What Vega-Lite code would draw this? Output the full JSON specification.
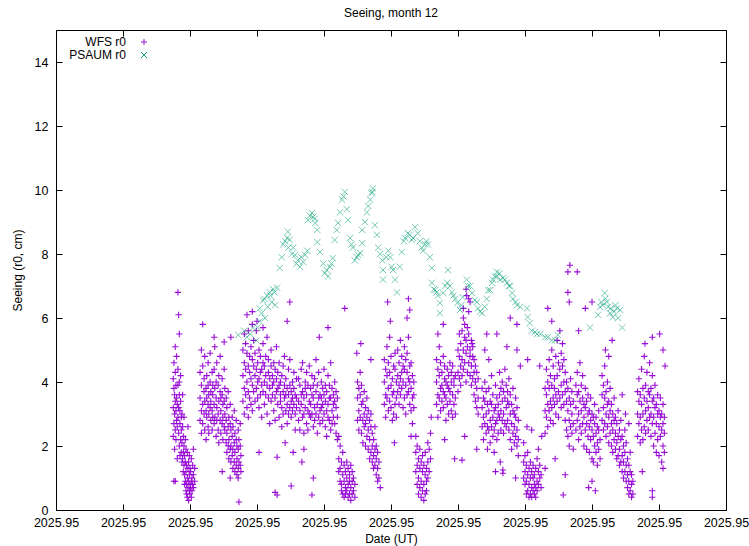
{
"$schema": "https://vega.github.io/schema/vega-lite/v6.json",
"width": 670, "height": 480,
"autosize": {"type": "none"},
"padding": {"left": 56, "top": 30, "right": 23, "bottom": 36},
"background": "white",
"title": {"text": "Seeing, month 12", "fontSize": 12, "font": "Liberation Sans", "fontWeight": "normal", "color": "black", "offset": 10},
"datasets": {
"wfs": [
{"t":1.75,"r":3.2},{"t":1.75,"r":4.1},{"t":1.75,"r":2.3},
{"t":1.76,"r":3.8},{"t":1.76,"r":2.7},{"t":1.76,"r":4.6},{"t":1.76,"r":0.9},
{"t":1.77,"r":3.0},{"t":1.77,"r":3.6},{"t":1.77,"r":1.9},{"t":1.78,"r":0.9},
{"t":1.78,"r":4.3},{"t":1.78,"r":2.5},{"t":1.78,"r":3.4},{"t":1.78,"r":5.1},
{"t":1.79,"r":3.1},{"t":1.79,"r":2.2},{"t":1.79,"r":3.9},
{"t":1.80,"r":3.5},{"t":1.80,"r":4.8},{"t":1.80,"r":2.8},
{"t":1.81,"r":2.6},{"t":1.81,"r":3.3},{"t":1.81,"r":1.6},
{"t":1.82,"r":3.9},{"t":1.82,"r":2.9},{"t":1.82,"r":6.8},{"t":1.82,"r":4.4},
{"t":1.83,"r":2.4},{"t":1.83,"r":3.2},{"t":1.83,"r":6.1},
{"t":1.84,"r":3.6},{"t":1.84,"r":2.0},{"t":1.84,"r":4.0},{"t":1.84,"r":5.5},
{"t":1.85,"r":2.7},{"t":1.85,"r":3.1},{"t":1.85,"r":1.7},
{"t":1.86,"r":2.2},{"t":1.86,"r":3.4},{"t":1.86,"r":4.2},
{"t":1.87,"r":2.9},{"t":1.87,"r":1.8},{"t":1.87,"r":2.5},
{"t":1.88,"r":2.1},{"t":1.88,"r":3.0},{"t":1.88,"r":1.5},
{"t":1.89,"r":2.6},{"t":1.89,"r":1.6},{"t":1.89,"r":3.6},
{"t":1.90,"r":1.8},{"t":1.90,"r":2.3},{"t":1.90,"r":1.2},
{"t":1.91,"r":1.4},{"t":1.91,"r":2.0},{"t":1.91,"r":2.9},
{"t":1.92,"r":1.1},{"t":1.92,"r":1.7},{"t":1.92,"r":0.8},
{"t":1.93,"r":1.5},{"t":1.93,"r":0.9},{"t":1.93,"r":2.2},
{"t":1.94,"r":1.2},{"t":1.94,"r":0.6},{"t":1.94,"r":1.9},
{"t":1.95,"r":0.8},{"t":1.95,"r":1.4},{"t":1.95,"r":0.5},
{"t":1.96,"r":1.0},{"t":1.96,"r":1.8},{"t":1.96,"r":0.4},
{"t":1.97,"r":1.3},{"t":1.97,"r":0.7},{"t":1.97,"r":2.6},
{"t":1.98,"r":0.9},{"t":1.98,"r":1.5},{"t":1.98,"r":0.3},
{"t":1.99,"r":1.1},{"t":1.99,"r":0.6},{"t":1.99,"r":1.7},
{"t":2.00,"r":0.8},{"t":2.00,"r":1.3},{"t":2.00,"r":0.5},
{"t":2.01,"r":1.2},{"t":2.01,"r":0.7},
{"t":2.02,"r":0.9},{"t":2.02,"r":1.6},{"t":2.02,"r":0.4},
{"t":2.03,"r":1.0},{"t":2.03,"r":0.6},
{"t":2.04,"r":1.4},{"t":2.04,"r":0.8},
{"t":2.05,"r":0.7},{"t":2.05,"r":1.1},{"t":2.05,"r":1.9},
{"t":2.07,"r":1.3},{"t":2.07,"r":0.9},
{"t":2.15,"r":3.5},{"t":2.15,"r":2.8},{"t":2.15,"r":4.3},
{"t":2.17,"r":3.9},{"t":2.17,"r":2.4},{"t":2.17,"r":3.1},{"t":2.17,"r":5.0},
{"t":2.19,"r":3.3},{"t":2.19,"r":4.5},{"t":2.19,"r":2.7},{"t":2.19,"r":5.8},
{"t":2.21,"r":3.7},{"t":2.21,"r":3.0},{"t":2.21,"r":4.1},
{"t":2.22,"r":2.5},{"t":2.22,"r":3.4},{"t":2.22,"r":4.8},
{"t":2.24,"r":3.8},{"t":2.24,"r":3.1},{"t":2.24,"r":2.2},
{"t":2.25,"r":4.2},{"t":2.25,"r":3.5},{"t":2.25,"r":2.9},
{"t":2.27,"r":3.3},{"t":2.27,"r":4.6},{"t":2.27,"r":3.9},{"t":2.27,"r":2.6},
{"t":2.28,"r":3.0},{"t":2.28,"r":3.6},{"t":2.28,"r":2.4},
{"t":2.30,"r":4.0},{"t":2.30,"r":3.2},{"t":2.30,"r":4.9},
{"t":2.31,"r":3.7},{"t":2.31,"r":2.8},{"t":2.31,"r":3.4},
{"t":2.33,"r":3.1},{"t":2.33,"r":4.3},{"t":2.33,"r":2.5},
{"t":2.34,"r":3.6},{"t":2.34,"r":3.9},{"t":2.34,"r":2.9},
{"t":2.36,"r":3.3},{"t":2.36,"r":4.4},{"t":2.36,"r":2.7},{"t":2.36,"r":5.4},
{"t":2.37,"r":2.9},{"t":2.37,"r":3.8},{"t":2.37,"r":5.1},
{"t":2.39,"r":3.5},{"t":2.39,"r":2.3},{"t":2.39,"r":4.0},
{"t":2.40,"r":3.2},{"t":2.40,"r":4.6},{"t":2.40,"r":2.8},
{"t":2.42,"r":3.9},{"t":2.42,"r":3.0},{"t":2.42,"r":2.5},
{"t":2.43,"r":3.4},{"t":2.43,"r":4.2},{"t":2.43,"r":2.1},
{"t":2.45,"r":2.8},{"t":2.45,"r":3.7},{"t":2.45,"r":4.8},
{"t":2.46,"r":3.1},{"t":2.46,"r":2.4},{"t":2.46,"r":3.5},
{"t":2.48,"r":3.6},{"t":2.48,"r":2.7},{"t":2.48,"r":4.1},{"t":2.48,"r":1.2},
{"t":2.49,"r":2.9},{"t":2.49,"r":3.3},{"t":2.49,"r":2.2},
{"t":2.51,"r":3.4},{"t":2.51,"r":2.6},{"t":2.51,"r":4.4},{"t":2.51,"r":5.25},
{"t":2.52,"r":2.5},{"t":2.52,"r":3.0},{"t":2.52,"r":3.8},
{"t":2.54,"r":2.8},{"t":2.54,"r":2.1},{"t":2.54,"r":3.5},
{"t":2.55,"r":3.2},{"t":2.55,"r":2.4},{"t":2.55,"r":1.8},
{"t":2.57,"r":2.6},{"t":2.57,"r":3.7},{"t":2.57,"r":2.0},
{"t":2.58,"r":2.2},{"t":2.58,"r":2.9},{"t":2.58,"r":1.6},
{"t":2.60,"r":2.7},{"t":2.60,"r":1.9},{"t":2.60,"r":3.3},{"t":2.60,"r":1.0},
{"t":2.61,"r":2.0},{"t":2.61,"r":2.5},{"t":2.61,"r":1.5},{"t":2.61,"r":5.4},
{"t":2.63,"r":2.3},{"t":2.63,"r":1.7},{"t":2.63,"r":2.9},
{"t":2.64,"r":1.9},{"t":2.64,"r":2.6},{"t":2.64,"r":1.3},
{"t":2.66,"r":2.1},{"t":2.66,"r":1.5},{"t":2.66,"r":3.1},
{"t":2.67,"r":1.8},{"t":2.67,"r":2.4},{"t":2.67,"r":1.2},
{"t":2.69,"r":2.2},{"t":2.69,"r":1.4},{"t":2.69,"r":2.8},
{"t":2.70,"r":1.6},{"t":2.70,"r":2.0},{"t":2.70,"r":1.1},
{"t":2.72,"r":1.9},{"t":2.72,"r":2.5},{"t":2.72,"r":1.3},{"t":2.72,"r":1.0},
{"t":2.73,"r":1.5},{"t":2.73,"r":2.2},{"t":2.73,"r":0.25},
{"t":2.75,"r":2.0},{"t":2.75,"r":1.4},{"t":2.75,"r":2.7},
{"t":2.76,"r":1.7},{"t":2.76,"r":1.2},
{"t":2.79,"r":4.2},{"t":2.79,"r":3.4},{"t":2.79,"r":5.0},
{"t":2.81,"r":3.8},{"t":2.81,"r":4.6},{"t":2.81,"r":3.0},{"t":2.81,"r":5.5},
{"t":2.83,"r":4.4},{"t":2.83,"r":3.6},{"t":2.83,"r":5.2},
{"t":2.85,"r":4.0},{"t":2.85,"r":4.9},{"t":2.85,"r":3.2},{"t":2.85,"r":6.1},
{"t":2.87,"r":3.7},{"t":2.87,"r":4.5},{"t":2.87,"r":5.6},{"t":2.87,"r":2.9},
{"t":2.89,"r":4.3},{"t":2.89,"r":3.5},{"t":2.89,"r":4.8},
{"t":2.91,"r":4.1},{"t":2.91,"r":5.1},{"t":2.91,"r":3.3},
{"t":2.93,"r":3.9},{"t":2.93,"r":4.7},{"t":2.93,"r":3.1},{"t":2.93,"r":5.8},{"t":2.93,"r":6.2},
{"t":2.95,"r":4.5},{"t":2.95,"r":3.7},{"t":2.95,"r":5.3},
{"t":2.97,"r":4.2},{"t":2.97,"r":3.4},{"t":2.97,"r":4.9},
{"t":2.99,"r":3.8},{"t":2.99,"r":4.4},{"t":2.99,"r":5.6},
{"t":3.00,"r":5.9},
{"t":3.01,"r":4.6},{"t":3.01,"r":3.5},{"t":3.01,"r":4.0},
{"t":3.03,"r":4.1},{"t":3.03,"r":5.0},{"t":3.03,"r":3.2},{"t":3.03,"r":1.8},
{"t":3.05,"r":3.6},{"t":3.05,"r":4.3},{"t":3.05,"r":4.8},
{"t":3.07,"r":4.4},{"t":3.07,"r":3.9},{"t":3.07,"r":2.9},
{"t":3.09,"r":3.7},{"t":3.09,"r":4.6},{"t":3.09,"r":5.2},{"t":3.09,"r":5.7},
{"t":3.11,"r":4.0},{"t":3.11,"r":3.3},{"t":3.11,"r":4.5},
{"t":3.13,"r":4.8},{"t":3.13,"r":3.6},{"t":3.13,"r":4.2},
{"t":3.15,"r":3.9},{"t":3.15,"r":5.4},{"t":3.15,"r":3.0},
{"t":3.17,"r":4.3},{"t":3.17,"r":3.5},{"t":3.17,"r":4.7},
{"t":3.19,"r":3.8},{"t":3.19,"r":4.1},{"t":3.19,"r":2.7},
{"t":3.21,"r":4.5},{"t":3.21,"r":3.4},{"t":3.21,"r":5.0},
{"t":3.23,"r":3.6},{"t":3.23,"r":4.2},{"t":3.23,"r":3.9},
{"t":3.25,"r":4.0},{"t":3.25,"r":3.1},{"t":3.25,"r":4.6},
{"t":3.27,"r":3.5},{"t":3.27,"r":4.4},{"t":3.27,"r":2.8},{"t":3.27,"r":0.55},
{"t":3.29,"r":4.1},{"t":3.29,"r":3.7},{"t":3.29,"r":5.1},
{"t":3.30,"r":1.65},{"t":3.30,"r":0.47},
{"t":3.31,"r":3.3},{"t":3.31,"r":4.3},{"t":3.31,"r":3.8},
{"t":3.33,"r":3.9},{"t":3.33,"r":2.9},{"t":3.33,"r":4.6},
{"t":3.35,"r":3.4},{"t":3.35,"r":4.0},{"t":3.35,"r":3.6},
{"t":3.37,"r":4.2},{"t":3.37,"r":3.2},{"t":3.37,"r":2.6},
{"t":3.39,"r":3.7},{"t":3.39,"r":4.5},{"t":3.39,"r":3.0},
{"t":3.41,"r":3.5},{"t":3.41,"r":3.9},{"t":3.41,"r":4.8},
{"t":3.42,"r":2.1},
{"t":3.43,"r":3.1},{"t":3.43,"r":4.1},{"t":3.43,"r":3.6},
{"t":3.45,"r":3.8},{"t":3.45,"r":3.3},{"t":3.45,"r":2.7},{"t":3.45,"r":5.9},
{"t":3.47,"r":3.6},{"t":3.47,"r":4.4},{"t":3.47,"r":3.0},
{"t":3.49,"r":3.2},{"t":3.49,"r":3.9},{"t":3.49,"r":4.7},{"t":3.49,"r":6.5},
{"t":3.51,"r":3.7},{"t":3.51,"r":2.9},{"t":3.51,"r":3.4},{"t":3.51,"r":0.75},
{"t":3.53,"r":4.0},{"t":3.53,"r":3.5},{"t":3.53,"r":3.1},
{"t":3.54,"r":1.8},
{"t":3.55,"r":3.3},{"t":3.55,"r":3.8},{"t":3.55,"r":4.3},
{"t":3.57,"r":3.0},{"t":3.57,"r":3.6},{"t":3.57,"r":2.5},
{"t":3.59,"r":3.5},{"t":3.59,"r":4.1},{"t":3.59,"r":3.2},
{"t":3.62,"r":3.4},{"t":3.62,"r":2.8},{"t":3.62,"r":4.1},
{"t":3.64,"r":3.9},{"t":3.64,"r":3.1},{"t":3.64,"r":2.5},
{"t":3.66,"r":3.3},{"t":3.66,"r":4.4},{"t":3.66,"r":3.6},
{"t":3.67,"r":1.5},
{"t":3.68,"r":2.9},{"t":3.68,"r":3.7},{"t":3.68,"r":4.6},
{"t":3.70,"r":3.5},{"t":3.70,"r":2.4},{"t":3.70,"r":3.0},{"t":3.70,"r":1.9},
{"t":3.72,"r":4.0},{"t":3.72,"r":3.2},{"t":3.72,"r":3.8},
{"t":3.74,"r":3.6},{"t":3.74,"r":2.7},{"t":3.74,"r":4.3},
{"t":3.76,"r":3.1},{"t":3.76,"r":3.9},{"t":3.76,"r":2.5},
{"t":3.78,"r":3.4},{"t":3.78,"r":4.5},{"t":3.78,"r":3.0},
{"t":3.80,"r":3.8},{"t":3.80,"r":2.9},{"t":3.80,"r":3.3},
{"t":3.82,"r":3.0},{"t":3.82,"r":3.6},{"t":3.82,"r":4.2},{"t":3.82,"r":0.47},
{"t":3.84,"r":3.5},{"t":3.84,"r":2.6},{"t":3.84,"r":3.9},{"t":3.84,"r":1.0},
{"t":3.86,"r":3.2},{"t":3.86,"r":4.1},{"t":3.86,"r":2.8},
{"t":3.88,"r":3.7},{"t":3.88,"r":3.0},{"t":3.88,"r":4.7},
{"t":3.90,"r":3.3},{"t":3.90,"r":3.9},{"t":3.90,"r":2.4},
{"t":3.92,"r":2.9},{"t":3.92,"r":3.5},{"t":3.92,"r":4.3},
{"t":3.93,"r":5.4},
{"t":3.94,"r":3.6},{"t":3.94,"r":3.1},{"t":3.94,"r":2.7},
{"t":3.96,"r":3.2},{"t":3.96,"r":4.0},{"t":3.96,"r":3.5},
{"t":3.98,"r":3.8},{"t":3.98,"r":2.8},{"t":3.98,"r":3.3},
{"t":4.00,"r":3.0},{"t":4.00,"r":3.6},{"t":4.00,"r":4.4},
{"t":4.02,"r":3.4},{"t":4.02,"r":2.6},{"t":4.02,"r":3.9},
{"t":4.04,"r":3.7},{"t":4.04,"r":3.1},{"t":4.04,"r":2.3},
{"t":4.06,"r":3.3},{"t":4.06,"r":4.2},{"t":4.06,"r":2.9},{"t":4.06,"r":5.7},
{"t":4.08,"r":2.8},{"t":4.08,"r":3.5},{"t":4.08,"r":3.9},
{"t":4.10,"r":3.5},{"t":4.10,"r":2.5},{"t":4.10,"r":4.6},
{"t":4.12,"r":3.1},{"t":4.12,"r":3.8},{"t":4.12,"r":2.7},
{"t":4.14,"r":3.6},{"t":4.14,"r":2.9},{"t":4.14,"r":3.3},
{"t":4.16,"r":2.7},{"t":4.16,"r":3.4},{"t":4.16,"r":4.0},
{"t":4.18,"r":3.2},{"t":4.18,"r":2.4},{"t":4.18,"r":3.7},
{"t":4.20,"r":2.9},{"t":4.20,"r":3.5},{"t":4.20,"r":2.2},
{"t":4.22,"r":1.6},{"t":4.22,"r":2.3},{"t":4.22,"r":1.2},
{"t":4.24,"r":1.3},{"t":4.24,"r":0.9},{"t":4.24,"r":2.0},
{"t":4.26,"r":0.8},{"t":4.26,"r":1.5},{"t":4.26,"r":0.6},
{"t":4.28,"r":1.1},{"t":4.28,"r":0.5},{"t":4.28,"r":1.8},
{"t":4.30,"r":0.9},{"t":4.30,"r":1.4},{"t":4.30,"r":0.4},
{"t":4.31,"r":6.3},
{"t":4.32,"r":0.7},{"t":4.32,"r":1.2},{"t":4.32,"r":0.5},
{"t":4.34,"r":1.0},{"t":4.34,"r":0.6},{"t":4.34,"r":1.5},
{"t":4.36,"r":0.8},{"t":4.36,"r":1.3},{"t":4.36,"r":0.4},
{"t":4.38,"r":1.1},{"t":4.38,"r":0.5},{"t":4.38,"r":0.9},
{"t":4.40,"r":0.7},{"t":4.40,"r":1.4},{"t":4.40,"r":0.3},
{"t":4.42,"r":0.9},{"t":4.42,"r":0.5},{"t":4.42,"r":1.2},
{"t":4.44,"r":0.6},{"t":4.44,"r":1.0},
{"t":4.46,"r":0.8},{"t":4.46,"r":0.4},
{"t":4.49,"r":4.9},
{"t":4.50,"r":3.5},{"t":4.50,"r":2.8},{"t":4.50,"r":4.0},
{"t":4.52,"r":3.1},{"t":4.52,"r":3.8},{"t":4.52,"r":2.5},
{"t":4.54,"r":3.6},{"t":4.54,"r":2.9},{"t":4.54,"r":4.3},
{"t":4.55,"r":5.2},
{"t":4.56,"r":3.3},{"t":4.56,"r":2.4},{"t":4.56,"r":3.9},
{"t":4.58,"r":2.8},{"t":4.58,"r":3.4},{"t":4.58,"r":2.1},
{"t":4.60,"r":3.0},{"t":4.60,"r":3.7},{"t":4.60,"r":2.6},
{"t":4.62,"r":2.7},{"t":4.62,"r":3.2},{"t":4.62,"r":2.0},
{"t":4.64,"r":2.9},{"t":4.64,"r":2.3},{"t":4.64,"r":3.5},
{"t":4.66,"r":2.5},{"t":4.66,"r":3.1},{"t":4.66,"r":1.9},
{"t":4.68,"r":2.2},{"t":4.68,"r":2.8},{"t":4.68,"r":1.6},
{"t":4.70,"r":2.6},{"t":4.70,"r":1.8},{"t":4.70,"r":3.0},{"t":4.70,"r":4.7},
{"t":4.72,"r":2.0},{"t":4.72,"r":2.4},{"t":4.72,"r":1.5},
{"t":4.74,"r":1.7},{"t":4.74,"r":2.2},{"t":4.74,"r":1.3},
{"t":4.76,"r":1.9},{"t":4.76,"r":1.4},{"t":4.76,"r":2.6},
{"t":4.78,"r":1.6},{"t":4.78,"r":1.1},{"t":4.78,"r":2.0},
{"t":4.80,"r":1.3},{"t":4.80,"r":1.8},{"t":4.80,"r":0.9},
{"t":4.82,"r":1.5},{"t":4.82,"r":1.0},{"t":4.84,"r":0.7},
{"t":4.90,"r":4.0},{"t":4.90,"r":3.3},{"t":4.90,"r":4.7},
{"t":4.92,"r":3.6},{"t":4.92,"r":4.4},{"t":4.92,"r":2.9},
{"t":4.94,"r":4.2},{"t":4.94,"r":3.5},{"t":4.94,"r":5.1},
{"t":4.95,"r":6.5},
{"t":4.96,"r":3.8},{"t":4.96,"r":4.6},{"t":4.96,"r":3.1},
{"t":4.98,"r":4.3},{"t":4.98,"r":3.4},{"t":4.98,"r":5.4},
{"t":4.99,"r":5.9},
{"t":5.00,"r":3.9},{"t":5.00,"r":4.8},{"t":5.00,"r":3.2},
{"t":5.02,"r":4.1},{"t":5.02,"r":3.6},{"t":5.02,"r":2.8},
{"t":5.04,"r":3.7},{"t":5.04,"r":4.5},{"t":5.04,"r":3.0},{"t":5.05,"r":2.1},
{"t":5.06,"r":4.4},{"t":5.06,"r":3.3},{"t":5.06,"r":4.9},
{"t":5.08,"r":3.5},{"t":5.08,"r":4.0},{"t":5.08,"r":2.9},
{"t":5.10,"r":4.2},{"t":5.10,"r":3.7},{"t":5.10,"r":5.0},
{"t":5.12,"r":4.6},{"t":5.12,"r":3.9},{"t":5.12,"r":3.3},
{"t":5.14,"r":4.1},{"t":5.14,"r":5.3},{"t":5.14,"r":3.6},
{"t":5.16,"r":4.8},{"t":5.16,"r":3.8},{"t":5.16,"r":4.3},
{"t":5.18,"r":4.0},{"t":5.18,"r":4.5},{"t":5.18,"r":3.2},
{"t":5.20,"r":4.4},{"t":5.20,"r":3.5},{"t":5.20,"r":5.1},
{"t":5.22,"r":3.9},{"t":5.22,"r":4.7},{"t":5.22,"r":3.0},
{"t":5.24,"r":4.3},{"t":5.24,"r":3.6},{"t":5.24,"r":4.9},{"t":5.24,"r":6.0},
{"t":5.26,"r":3.7},{"t":5.26,"r":4.1},{"t":5.26,"r":5.4},{"t":5.26,"r":6.6},
{"t":5.28,"r":4.5},{"t":5.28,"r":3.3},{"t":5.28,"r":4.0},{"t":5.28,"r":6.25},
{"t":5.30,"r":3.8},{"t":5.30,"r":4.6},{"t":5.30,"r":3.1},{"t":5.30,"r":2.3},
{"t":5.32,"r":4.2},{"t":5.32,"r":3.5},{"t":5.32,"r":2.7},
{"t":5.34,"r":3.6},{"t":5.34,"r":4.0},{"t":5.34,"r":3.2},
{"t":5.37,"r":1.8},{"t":5.37,"r":1.2},{"t":5.37,"r":2.3},
{"t":5.39,"r":1.4},{"t":5.39,"r":0.8},{"t":5.39,"r":2.0},
{"t":5.41,"r":1.0},{"t":5.41,"r":1.6},{"t":5.41,"r":0.5},
{"t":5.43,"r":1.3},{"t":5.43,"r":0.7},{"t":5.43,"r":1.9},
{"t":5.45,"r":0.9},{"t":5.45,"r":1.5},{"t":5.45,"r":0.4},
{"t":5.47,"r":1.2},{"t":5.47,"r":0.6},{"t":5.47,"r":1.7},
{"t":5.49,"r":0.8},{"t":5.49,"r":1.4},{"t":5.49,"r":0.3},
{"t":5.51,"r":1.1},{"t":5.51,"r":0.5},{"t":5.51,"r":1.8},
{"t":5.53,"r":0.9},{"t":5.53,"r":1.3},{"t":5.53,"r":0.6},
{"t":5.55,"r":1.5},{"t":5.55,"r":1.0},{"t":5.55,"r":2.1},
{"t":5.57,"r":1.2},{"t":5.57,"r":1.9},
{"t":5.59,"r":1.6},{"t":5.59,"r":2.4},{"t":5.60,"r":2.9},
{"t":5.68,"r":4.0},{"t":5.68,"r":3.3},{"t":5.68,"r":4.7},
{"t":5.70,"r":3.6},{"t":5.70,"r":4.4},{"t":5.70,"r":2.9},{"t":5.70,"r":5.5},
{"t":5.72,"r":4.2},{"t":5.72,"r":3.5},{"t":5.72,"r":5.1},
{"t":5.74,"r":3.8},{"t":5.74,"r":4.6},{"t":5.74,"r":3.1},
{"t":5.76,"r":4.3},{"t":5.76,"r":3.4},{"t":5.76,"r":3.9},
{"t":5.78,"r":3.7},{"t":5.78,"r":4.8},{"t":5.78,"r":3.2},{"t":5.78,"r":5.8},
{"t":5.80,"r":4.1},{"t":5.80,"r":3.6},{"t":5.80,"r":4.5},{"t":5.80,"r":2.2},
{"t":5.82,"r":3.5},{"t":5.82,"r":4.0},{"t":5.82,"r":2.8},
{"t":5.84,"r":4.4},{"t":5.84,"r":3.3},{"t":5.84,"r":3.9},
{"t":5.86,"r":3.8},{"t":5.86,"r":4.2},{"t":5.86,"r":3.0},
{"t":5.88,"r":3.4},{"t":5.88,"r":4.6},{"t":5.88,"r":3.7},
{"t":5.90,"r":4.0},{"t":5.90,"r":3.1},{"t":5.90,"r":4.3},
{"t":5.92,"r":3.6},{"t":5.92,"r":4.5},{"t":5.92,"r":2.9},
{"t":5.94,"r":3.9},{"t":5.94,"r":3.3},{"t":5.94,"r":4.1},{"t":5.95,"r":1.6},
{"t":5.96,"r":3.5},{"t":5.96,"r":4.2},{"t":5.96,"r":3.0},
{"t":6.00,"r":4.3},{"t":6.00,"r":5.0},{"t":6.00,"r":3.7},
{"t":6.02,"r":4.8},{"t":6.02,"r":4.1},{"t":6.02,"r":5.5},
{"t":6.04,"r":5.2},{"t":6.04,"r":4.5},{"t":6.04,"r":3.9},
{"t":6.06,"r":4.7},{"t":6.06,"r":5.6},{"t":6.06,"r":4.2},{"t":6.06,"r":1.56},
{"t":6.08,"r":5.0},{"t":6.08,"r":4.4},{"t":6.08,"r":6.0},{"t":6.08,"r":6.3},
{"t":6.10,"r":5.4},{"t":6.10,"r":4.6},{"t":6.10,"r":5.8},{"t":6.10,"r":2.3},
{"t":6.12,"r":4.9},{"t":6.12,"r":5.3},{"t":6.12,"r":4.0},{"t":6.12,"r":6.9},
{"t":6.13,"r":6.7},
{"t":6.14,"r":5.1},{"t":6.14,"r":4.3},{"t":6.14,"r":5.7},
{"t":6.16,"r":4.6},{"t":6.16,"r":5.5},{"t":6.16,"r":6.2},{"t":6.16,"r":6.6},
{"t":6.18,"r":5.0},{"t":6.18,"r":4.2},{"t":6.18,"r":4.8},{"t":6.18,"r":6.5},
{"t":6.20,"r":4.5},{"t":6.20,"r":5.3},{"t":6.20,"r":3.9},
{"t":6.21,"r":5.2},
{"t":6.22,"r":4.8},{"t":6.22,"r":4.1},{"t":6.22,"r":5.1},
{"t":6.24,"r":4.3},{"t":6.24,"r":4.7},{"t":6.24,"r":3.6},
{"t":6.26,"r":4.0},{"t":6.26,"r":4.5},{"t":6.26,"r":3.4},
{"t":6.28,"r":3.8},{"t":6.28,"r":4.3},{"t":6.28,"r":3.2},{"t":6.28,"r":1.9},
{"t":6.30,"r":3.5},{"t":6.30,"r":4.1},{"t":6.30,"r":3.0},
{"t":6.36,"r":3.2},{"t":6.36,"r":2.6},{"t":6.36,"r":3.8},
{"t":6.38,"r":2.9},{"t":6.38,"r":3.5},{"t":6.38,"r":2.2},
{"t":6.40,"r":3.4},{"t":6.40,"r":2.7},{"t":6.40,"r":4.0},{"t":6.40,"r":5.0},
{"t":6.42,"r":3.0},{"t":6.42,"r":3.7},{"t":6.42,"r":2.4},
{"t":6.43,"r":5.5},
{"t":6.44,"r":2.6},{"t":6.44,"r":3.3},{"t":6.44,"r":1.9},
{"t":6.46,"r":3.1},{"t":6.46,"r":2.5},{"t":6.46,"r":3.8},{"t":6.46,"r":4.7},
{"t":6.48,"r":2.8},{"t":6.48,"r":3.4},{"t":6.48,"r":2.1},
{"t":6.50,"r":3.3},{"t":6.50,"r":2.6},{"t":6.50,"r":4.2},
{"t":6.52,"r":2.9},{"t":6.52,"r":3.6},{"t":6.52,"r":2.3},
{"t":6.54,"r":2.5},{"t":6.54,"r":3.1},{"t":6.54,"r":1.8},
{"t":6.56,"r":3.2},{"t":6.56,"r":2.7},{"t":6.56,"r":3.9},{"t":6.56,"r":1.2},
{"t":6.58,"r":2.8},{"t":6.58,"r":3.5},{"t":6.58,"r":2.2},{"t":6.58,"r":5.5},
{"t":6.60,"r":3.3},{"t":6.60,"r":2.4},{"t":6.60,"r":3.0},
{"t":6.62,"r":3.6},{"t":6.62,"r":2.9},{"t":6.62,"r":4.3},
{"t":6.63,"r":1.5},
{"t":6.64,"r":3.1},{"t":6.64,"r":3.8},{"t":6.64,"r":2.5},
{"t":6.66,"r":3.4},{"t":6.66,"r":2.8},{"t":6.66,"r":4.0},
{"t":6.67,"r":1.25},{"t":6.67,"r":1.15},
{"t":6.68,"r":3.0},{"t":6.68,"r":3.7},{"t":6.68,"r":2.4},
{"t":6.70,"r":3.5},{"t":6.70,"r":2.7},{"t":6.70,"r":4.4},
{"t":6.72,"r":3.2},{"t":6.72,"r":3.9},{"t":6.72,"r":2.6},
{"t":6.73,"r":5.1},
{"t":6.74,"r":2.8},{"t":6.74,"r":3.4},{"t":6.74,"r":3.7},
{"t":6.76,"r":3.3},{"t":6.76,"r":2.5},{"t":6.76,"r":4.1},
{"t":6.78,"r":3.0},{"t":6.78,"r":3.6},{"t":6.78,"r":2.2},{"t":6.78,"r":6.0},
{"t":6.80,"r":2.7},{"t":6.80,"r":3.3},{"t":6.80,"r":1.9},
{"t":6.82,"r":3.1},{"t":6.82,"r":2.4},{"t":6.82,"r":3.8},
{"t":6.84,"r":2.6},{"t":6.84,"r":3.0},{"t":6.84,"r":2.1},
{"t":6.86,"r":2.9},{"t":6.86,"r":2.3},{"t":6.86,"r":3.5},{"t":6.86,"r":1.0},
{"t":6.88,"r":2.5},{"t":6.88,"r":2.0},{"t":6.88,"r":3.2},{"t":6.88,"r":5.8},{"t":6.88,"r":5.0},
{"t":6.90,"r":2.2},{"t":6.90,"r":2.8},{"t":6.90,"r":1.7},
{"t":6.93,"r":4.5},
{"t":6.98,"r":1.5},{"t":6.98,"r":2.1},{"t":6.98,"r":1.0},
{"t":7.00,"r":1.2},{"t":7.00,"r":0.8},{"t":7.00,"r":1.7},
{"t":7.02,"r":0.9},{"t":7.02,"r":1.4},{"t":7.02,"r":0.5},{"t":7.03,"r":2.6},
{"t":7.04,"r":1.1},{"t":7.04,"r":0.6},{"t":7.04,"r":1.8},{"t":7.04,"r":4.7},
{"t":7.06,"r":0.8},{"t":7.06,"r":1.3},{"t":7.06,"r":0.4},
{"t":7.08,"r":1.0},{"t":7.08,"r":0.5},{"t":7.08,"r":1.5},
{"t":7.10,"r":0.7},{"t":7.10,"r":1.2},{"t":7.10,"r":0.4},{"t":7.10,"r":2.5},
{"t":7.12,"r":1.0},{"t":7.12,"r":0.6},{"t":7.12,"r":1.4},
{"t":7.14,"r":0.8},{"t":7.14,"r":1.1},{"t":7.14,"r":0.5},
{"t":7.16,"r":0.7},{"t":7.16,"r":1.3},{"t":7.16,"r":0.4},
{"t":7.18,"r":0.9},{"t":7.18,"r":0.6},{"t":7.18,"r":1.6},
{"t":7.20,"r":1.2},{"t":7.20,"r":0.8},{"t":7.20,"r":1.9},
{"t":7.22,"r":1.0},{"t":7.22,"r":1.4},{"t":7.22,"r":4.5},
{"t":7.24,"r":0.7},{"t":7.24,"r":1.1},{"t":7.25,"r":2.3},
{"t":7.30,"r":3.1},{"t":7.30,"r":2.4},{"t":7.30,"r":3.8},{"t":7.30,"r":1.3},
{"t":7.32,"r":3.6},{"t":7.32,"r":2.9},{"t":7.32,"r":4.4},
{"t":7.34,"r":3.3},{"t":7.34,"r":4.0},{"t":7.34,"r":2.6},{"t":7.34,"r":6.3},
{"t":7.36,"r":3.8},{"t":7.36,"r":3.1},{"t":7.36,"r":4.7},
{"t":7.38,"r":3.4},{"t":7.38,"r":4.2},{"t":7.38,"r":2.8},
{"t":7.40,"r":3.9},{"t":7.40,"r":3.2},{"t":7.40,"r":5.0},{"t":7.40,"r":5.9},
{"t":7.42,"r":3.5},{"t":7.42,"r":4.5},{"t":7.42,"r":2.7},
{"t":7.44,"r":4.1},{"t":7.44,"r":3.3},{"t":7.44,"r":3.8},
{"t":7.45,"r":1.6},
{"t":7.46,"r":3.6},{"t":7.46,"r":4.8},{"t":7.46,"r":3.0},
{"t":7.48,"r":4.2},{"t":7.48,"r":3.4},{"t":7.48,"r":5.3},
{"t":7.50,"r":3.7},{"t":7.50,"r":4.6},{"t":7.50,"r":2.9},
{"t":7.52,"r":4.4},{"t":7.52,"r":3.5},{"t":7.52,"r":5.6},
{"t":7.54,"r":3.9},{"t":7.54,"r":4.9},{"t":7.54,"r":3.2},
{"t":7.56,"r":4.5},{"t":7.56,"r":3.6},{"t":7.56,"r":5.2},
{"t":7.57,"r":0.47},
{"t":7.58,"r":4.0},{"t":7.58,"r":3.3},{"t":7.58,"r":4.7},
{"t":7.60,"r":3.7},{"t":7.60,"r":4.3},{"t":7.60,"r":2.8},{"t":7.60,"r":1.1},
{"t":7.62,"r":3.4},{"t":7.62,"r":4.0},{"t":7.62,"r":2.5},
{"t":7.64,"r":3.1},{"t":7.64,"r":3.8},{"t":7.64,"r":2.3},{"t":7.64,"r":7.44},{"t":7.64,"r":6.8},
{"t":7.66,"r":2.8},{"t":7.66,"r":3.5},{"t":7.66,"r":2.0},{"t":7.66,"r":6.5},
{"t":7.67,"r":7.65},
{"t":7.68,"r":3.3},{"t":7.68,"r":2.6},{"t":7.68,"r":4.1},
{"t":7.70,"r":3.0},{"t":7.70,"r":2.4},{"t":7.70,"r":3.7},
{"t":7.72,"r":2.7},{"t":7.72,"r":3.4},{"t":7.72,"r":1.9},
{"t":7.76,"r":3.2},{"t":7.76,"r":2.5},{"t":7.76,"r":3.9},
{"t":7.78,"r":3.6},{"t":7.78,"r":2.8},{"t":7.78,"r":4.3},{"t":7.78,"r":7.44},
{"t":7.80,"r":3.0},{"t":7.80,"r":3.7},{"t":7.80,"r":2.2},{"t":7.80,"r":5.6},
{"t":7.82,"r":3.4},{"t":7.82,"r":2.6},{"t":7.82,"r":4.6},
{"t":7.84,"r":3.1},{"t":7.84,"r":3.9},{"t":7.84,"r":2.4},
{"t":7.86,"r":3.5},{"t":7.86,"r":2.7},{"t":7.86,"r":4.2},
{"t":7.88,"r":2.9},{"t":7.88,"r":3.3},{"t":7.88,"r":2.0},
{"t":7.90,"r":3.2},{"t":7.90,"r":2.5},{"t":7.90,"r":3.8},{"t":7.90,"r":6.3},
{"t":7.92,"r":2.7},{"t":7.92,"r":3.4},{"t":7.92,"r":1.9},
{"t":7.94,"r":3.0},{"t":7.94,"r":2.3},{"t":7.94,"r":3.6},
{"t":7.95,"r":0.7},
{"t":7.96,"r":2.6},{"t":7.96,"r":3.1},{"t":7.96,"r":1.8},
{"t":7.98,"r":2.8},{"t":7.98,"r":2.2},{"t":7.98,"r":3.5},
{"t":8.00,"r":2.5},{"t":8.00,"r":3.0},{"t":8.00,"r":1.6},{"t":8.00,"r":6.5},{"t":8.00,"r":0.9},
{"t":8.02,"r":2.3},{"t":8.02,"r":2.9},{"t":8.02,"r":1.5},
{"t":8.04,"r":2.7},{"t":8.04,"r":2.0},{"t":8.04,"r":3.3},
{"t":8.05,"r":0.6},
{"t":8.06,"r":2.4},{"t":8.06,"r":1.8},{"t":8.06,"r":2.9},
{"t":8.08,"r":2.1},{"t":8.08,"r":2.6},{"t":8.08,"r":1.4},
{"t":8.10,"r":2.5},{"t":8.10,"r":1.9},{"t":8.10,"r":3.1},
{"t":8.12,"r":2.2},{"t":8.12,"r":1.6},
{"t":8.15,"r":3.6},{"t":8.15,"r":2.8},{"t":8.15,"r":4.2},
{"t":8.17,"r":3.2},{"t":8.17,"r":3.9},{"t":8.17,"r":2.5},
{"t":8.19,"r":3.5},{"t":8.19,"r":2.7},{"t":8.19,"r":4.5},
{"t":8.20,"r":5.0},
{"t":8.21,"r":3.0},{"t":8.21,"r":3.7},{"t":8.21,"r":2.3},
{"t":8.23,"r":3.3},{"t":8.23,"r":2.6},{"t":8.23,"r":4.0},
{"t":8.25,"r":2.9},{"t":8.25,"r":3.4},{"t":8.25,"r":2.1},{"t":8.25,"r":4.8},
{"t":8.27,"r":3.1},{"t":8.27,"r":2.4},{"t":8.27,"r":3.8},
{"t":8.29,"r":2.7},{"t":8.29,"r":3.3},{"t":8.29,"r":2.0},
{"t":8.30,"r":5.3},
{"t":8.31,"r":2.5},{"t":8.31,"r":3.0},{"t":8.31,"r":1.8},
{"t":8.33,"r":2.8},{"t":8.33,"r":2.2},{"t":8.33,"r":3.5},
{"t":8.35,"r":2.4},{"t":8.35,"r":1.9},{"t":8.35,"r":2.9},
{"t":8.37,"r":2.1},{"t":8.37,"r":2.7},{"t":8.37,"r":1.6},
{"t":8.39,"r":2.3},{"t":8.39,"r":1.7},{"t":8.39,"r":3.1},
{"t":8.41,"r":1.9},{"t":8.41,"r":2.5},{"t":8.41,"r":1.4},
{"t":8.43,"r":2.2},{"t":8.43,"r":1.5},{"t":8.43,"r":2.8},
{"t":8.45,"r":1.7},{"t":8.45,"r":2.3},{"t":8.45,"r":1.2},{"t":8.45,"r":3.6},
{"t":8.47,"r":1.5},{"t":8.47,"r":2.0},{"t":8.47,"r":1.0},
{"t":8.49,"r":1.8},{"t":8.49,"r":1.2},{"t":8.49,"r":2.5},
{"t":8.50,"r":3.0},
{"t":8.51,"r":1.4},{"t":8.51,"r":0.9},{"t":8.51,"r":2.1},
{"t":8.53,"r":1.1},{"t":8.53,"r":1.6},{"t":8.53,"r":0.7},
{"t":8.55,"r":0.9},{"t":8.55,"r":1.4},{"t":8.55,"r":0.5},{"t":8.55,"r":2.7},
{"t":8.57,"r":1.2},{"t":8.57,"r":0.6},{"t":8.57,"r":1.8},
{"t":8.59,"r":0.8},{"t":8.59,"r":1.1},{"t":8.59,"r":0.4},
{"t":8.61,"r":0.5},{"t":8.61,"r":0.9},
{"t":8.68,"r":3.0},{"t":8.68,"r":2.3},{"t":8.68,"r":3.7},
{"t":8.70,"r":3.4},{"t":8.70,"r":2.7},{"t":8.70,"r":4.1},
{"t":8.72,"r":2.9},{"t":8.72,"r":3.6},{"t":8.72,"r":2.1},
{"t":8.74,"r":3.3},{"t":8.74,"r":2.5},{"t":8.74,"r":4.4},
{"t":8.75,"r":1.2},
{"t":8.76,"r":3.0},{"t":8.76,"r":3.8},{"t":8.76,"r":2.2},
{"t":8.78,"r":3.5},{"t":8.78,"r":2.6},{"t":8.78,"r":4.8},
{"t":8.79,"r":5.2},
{"t":8.80,"r":3.1},{"t":8.80,"r":3.9},{"t":8.80,"r":2.4},
{"t":8.82,"r":2.8},{"t":8.82,"r":3.4},{"t":8.82,"r":4.3},
{"t":8.84,"r":3.2},{"t":8.84,"r":2.5},{"t":8.84,"r":3.7},
{"t":8.86,"r":3.6},{"t":8.86,"r":2.9},{"t":8.86,"r":4.6},
{"t":8.88,"r":3.0},{"t":8.88,"r":3.8},{"t":8.88,"r":2.3},
{"t":8.90,"r":3.4},{"t":8.90,"r":2.7},{"t":8.90,"r":4.2},{"t":8.90,"r":5.4},{"t":8.90,"r":0.6},{"t":8.90,"r":0.4},
{"t":8.92,"r":2.9},{"t":8.92,"r":3.5},{"t":8.92,"r":2.0},
{"t":8.94,"r":3.2},{"t":8.94,"r":2.4},{"t":8.94,"r":3.9},
{"t":8.96,"r":2.7},{"t":8.96,"r":3.3},{"t":8.96,"r":1.8},
{"t":8.98,"r":3.0},{"t":8.98,"r":2.2},{"t":8.98,"r":3.6},
{"t":9.00,"r":2.6},{"t":9.00,"r":3.1},{"t":9.00,"r":1.7},
{"t":9.01,"r":5.5},
{"t":9.02,"r":2.9},{"t":9.02,"r":2.3},{"t":9.02,"r":3.5},
{"t":9.04,"r":2.5},{"t":9.04,"r":3.0},{"t":9.04,"r":1.5},
{"t":9.06,"r":2.7},{"t":9.06,"r":2.0},{"t":9.06,"r":3.3},{"t":9.06,"r":5.0},{"t":9.06,"r":1.3},
{"t":9.08,"r":2.4},{"t":9.08,"r":1.8},{"t":9.08,"r":2.9},
{"t":9.09,"r":4.5}
],
"psaum": [
{"t":2.72,"r":5.47},{"t":2.81,"r":5.6},{"t":2.85,"r":5.4},{"t":2.90,"r":5.5},{"t":2.94,"r":5.7},{"t":2.99,"r":5.3},
{"t":3.01,"r":5.7},{"t":3.04,"r":5.9},{"t":3.04,"r":6.3},{"t":3.07,"r":6.15},{"t":3.09,"r":6.55},{"t":3.11,"r":6.6},
{"t":3.12,"r":6.0},{"t":3.15,"r":6.7},{"t":3.16,"r":6.35},{"t":3.19,"r":6.8},{"t":3.20,"r":6.7},{"t":3.22,"r":6.5},
{"t":3.24,"r":6.9},{"t":3.26,"r":6.8},{"t":3.27,"r":6.4},{"t":3.30,"r":6.95},{"t":3.34,"r":7.56},{"t":3.37,"r":7.9},
{"t":3.39,"r":8.3},{"t":3.42,"r":8.4},{"t":3.45,"r":8.5},{"t":3.46,"r":8.7},{"t":3.47,"r":8.2},{"t":3.49,"r":8.45},
{"t":3.52,"r":8.0},{"t":3.54,"r":8.2},{"t":3.57,"r":7.97},{"t":3.59,"r":7.7},{"t":3.61,"r":7.8},{"t":3.64,"r":7.6},
{"t":3.66,"r":7.9},{"t":3.69,"r":7.75},{"t":3.72,"r":7.97},{"t":3.75,"r":8.1},{"t":3.76,"r":9.06},{"t":3.79,"r":9.2},
{"t":3.82,"r":9.28},{"t":3.84,"r":9.16},{"t":3.86,"r":9.1},{"t":3.87,"r":8.97},{"t":3.90,"r":8.75},{"t":3.90,"r":8.37},
{"t":3.94,"r":8.06},{"t":3.99,"r":7.7},{"t":4.01,"r":7.4},{"t":4.04,"r":7.5},{"t":4.06,"r":7.3},{"t":4.09,"r":7.6},
{"t":4.11,"r":7.7},{"t":4.13,"r":7.87},{"t":4.16,"r":8.44},{"t":4.19,"r":8.75},{"t":4.21,"r":8.97},{"t":4.24,"r":9.3},
{"t":4.27,"r":9.7},{"t":4.29,"r":9.8},{"t":4.31,"r":9.94},{"t":4.34,"r":9.4},{"t":4.36,"r":9.06},{"t":4.39,"r":8.5},
{"t":4.41,"r":8.3},{"t":4.43,"r":8.2},{"t":4.46,"r":7.8},{"t":4.49,"r":7.9},{"t":4.51,"r":7.97},{"t":4.54,"r":8.03},
{"t":4.57,"r":8.34},{"t":4.57,"r":8.75},{"t":4.61,"r":9.0},{"t":4.64,"r":9.3},{"t":4.66,"r":9.5},{"t":4.69,"r":9.7},
{"t":4.71,"r":9.9},{"t":4.72,"r":9.94},{"t":4.73,"r":10.05},{"t":4.76,"r":8.9},{"t":4.79,"r":8.6},{"t":4.81,"r":8.2},
{"t":4.84,"r":8.0},{"t":4.87,"r":7.8},{"t":4.88,"r":7.5},{"t":4.88,"r":7.2},{"t":4.93,"r":7.9},{"t":4.96,"r":8.1},
{"t":4.99,"r":7.9},{"t":5.01,"r":7.6},{"t":5.03,"r":7.5},{"t":5.06,"r":7.2},{"t":5.09,"r":6.8},{"t":5.13,"r":7.6},
{"t":5.16,"r":8.06},{"t":5.19,"r":8.4},{"t":5.21,"r":8.5},{"t":5.25,"r":8.65},{"t":5.28,"r":8.6},{"t":5.31,"r":8.44},
{"t":5.33,"r":8.5},{"t":5.36,"r":8.84},{"t":5.40,"r":8.65},{"t":5.43,"r":8.4},{"t":5.46,"r":8.2},{"t":5.48,"r":8.1},
{"t":5.51,"r":8.3},{"t":5.53,"r":8.4},{"t":5.55,"r":8.3},{"t":5.58,"r":7.9},{"t":5.61,"r":7.56},{"t":5.61,"r":7.1},
{"t":5.64,"r":6.9},{"t":5.66,"r":6.87},{"t":5.68,"r":6.8},{"t":5.70,"r":6.7},{"t":5.73,"r":6.47},{"t":5.73,"r":6.15},
{"t":5.78,"r":6.78},{"t":5.81,"r":7.0},{"t":5.84,"r":7.1},{"t":5.85,"r":7.5},{"t":5.88,"r":7.0},{"t":5.91,"r":6.8},
{"t":5.93,"r":6.7},{"t":5.96,"r":6.6},{"t":5.99,"r":6.47},{"t":6.03,"r":6.25},{"t":6.05,"r":6.4},{"t":6.07,"r":6.65},
{"t":6.13,"r":7.2},{"t":6.15,"r":7.0},{"t":6.18,"r":7.0},{"t":6.21,"r":6.78},{"t":6.25,"r":6.56},{"t":6.28,"r":6.5},
{"t":6.30,"r":6.3},{"t":6.33,"r":6.2},{"t":6.36,"r":6.15},{"t":6.40,"r":6.35},{"t":6.43,"r":6.6},{"t":6.45,"r":6.87},
{"t":6.48,"r":6.87},{"t":6.51,"r":7.1},{"t":6.52,"r":7.2},{"t":6.55,"r":7.3},{"t":6.58,"r":7.3},{"t":6.58,"r":7.44},
{"t":6.62,"r":7.4},{"t":6.63,"r":7.2},{"t":6.67,"r":7.25},{"t":6.70,"r":7.2},{"t":6.73,"r":7.1},{"t":6.76,"r":7.0},
{"t":6.78,"r":7.0},{"t":6.81,"r":6.78},{"t":6.82,"r":6.6},{"t":6.86,"r":6.5},{"t":6.88,"r":6.4},{"t":6.93,"r":6.35},
{"t":7.03,"r":6.3},{"t":7.04,"r":6.03},{"t":7.07,"r":5.84},{"t":7.10,"r":5.6},{"t":7.15,"r":5.56},{"t":7.18,"r":5.5},
{"t":7.23,"r":5.5},{"t":7.30,"r":5.4},{"t":7.34,"r":5.4},{"t":7.40,"r":5.3},{"t":7.45,"r":5.3},{"t":7.49,"r":5.47},
{"t":7.97,"r":5.7},{"t":8.09,"r":6.1},{"t":8.12,"r":6.35},{"t":8.14,"r":6.5},{"t":8.16,"r":6.4},{"t":8.19,"r":6.78},
{"t":8.20,"r":6.6},{"t":8.22,"r":6.5},{"t":8.24,"r":6.35},{"t":8.27,"r":6.15},{"t":8.28,"r":6.3},{"t":8.31,"r":6.03},
{"t":8.33,"r":6.2},{"t":8.35,"r":6.4},{"t":8.37,"r":6.3},{"t":8.39,"r":6.0},{"t":8.42,"r":6.25},{"t":8.45,"r":5.7}
]
},
"layer": [
{
"data": {"name": "wfs"},
"mark": {"type": "point", "filled": false, "strokeWidth": 1.1, "size": 40, "opacity": 0.95},
"encoding": {
"x": {"field": "t", "type": "quantitative", "scale": {"domain": [0, 10], "nice": false, "zero": false},
 "axis": {"orient": "bottom", "values": [0,1,2,3,4,5,6,7,8,9,10], "labelExpr": "'2025.95'", "title": "Date (UT)", "labelFlush": false, "labelOverlap": false, "labelPadding": 12, "titlePadding": 5}},
"y": {"field": "r", "type": "quantitative", "scale": {"domain": [0, 15], "nice": false, "zero": true},
 "axis": {"orient": "left", "values": [0,2,4,6,8,10,12,14], "title": "Seeing (r0, cm)", "labelPadding": 14, "titlePadding": 10}},
"color": {"datum": "WFS r0", "type": "nominal", "scale": {"domain": ["WFS r0", "PSAUM r0"], "range": ["#9400d3", "#009e73"]},
 "legend": {"orient": "none", "legendX": 82, "legendY": 6, "title": null, "labelAlign": "right", "labelOffset": -24, "rowPadding": 1, "padding": 0, "symbolSize": 36, "symbolStrokeWidth": 1, "labelFontSize": 12, "labelColor": "black"}},
"shape": {"datum": "WFS r0", "type": "nominal", "scale": {"domain": ["WFS r0", "PSAUM r0"], "range": ["M-1,0H1M0,-1V1", "M-1,-1L1,1M-1,1L1,-1"]},
 "legend": {"orient": "none", "legendX": 82, "legendY": 6, "title": null, "labelAlign": "right", "labelOffset": -24, "rowPadding": 1, "padding": 0, "symbolSize": 36, "symbolStrokeWidth": 1, "labelFontSize": 12, "labelColor": "black"}}
}
},
{
"data": {"name": "psaum"},
"mark": {"type": "point", "filled": false, "strokeWidth": 1, "size": 40, "opacity": 0.55},
"encoding": {
"x": {"field": "t", "type": "quantitative", "scale": {"domain": [0, 10], "nice": false, "zero": false},
 "axis": {"orient": "top", "values": [0,1,2,3,4,5,6,7,8,9,10], "labels": false, "title": null}},
"y": {"field": "r", "type": "quantitative", "scale": {"domain": [0, 15], "nice": false, "zero": true},
 "axis": {"orient": "right", "values": [0,2,4,6,8,10,12,14], "labels": false, "title": null}},
"color": {"datum": "PSAUM r0", "type": "nominal"},
"shape": {"datum": "PSAUM r0", "type": "nominal"}
}
}
],
"resolve": {"axis": {"x": "independent", "y": "independent"}},
"config": {
"font": "Liberation Sans",
"view": {"stroke": "black", "strokeWidth": 1},
"axis": {"grid": false, "domain": false, "tickColor": "black", "tickSize": -6, "tickWidth": 1, "labelColor": "black", "labelFontSize": 12.5, "labelFont": "Liberation Sans", "titleFont": "Liberation Sans", "titleFontSize": 12, "titleFontWeight": "normal", "titleColor": "black"},
"legend": {"labelFont": "Liberation Sans"}
}
}
